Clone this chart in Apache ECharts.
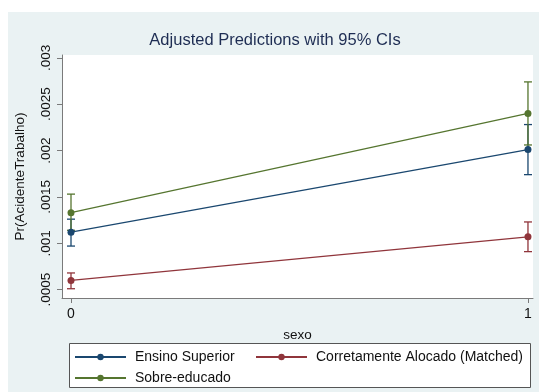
<!DOCTYPE html>
<html>
<head>
<meta charset="utf-8">
<script src="https://cdn.jsdelivr.net/npm/echarts@6/dist/echarts.min.js"></script>
<style>
  html, body { margin: 0; padding: 0; background: #ffffff; }
  #chart { width: 539px; height: 392px; }
</style>
</head>
<body>
<div id="chart"></div>
<script>
// sexo (0/1) and the adjusted predictions with 95% confidence limits
const sexoValues = [0, 1];

const ensinoMean = [0.00112, 0.00201];
const ensinoLow  = [0.00097, 0.00174];
const ensinoHigh = [0.00126, 0.00228];

const corretoMean = [0.00060, 0.00107];
const corretoLow  = [0.00051, 0.00091];
const corretoHigh = [0.00068, 0.00123];

const sobreMean = [0.00133, 0.00240];
const sobreLow  = [0.00114, 0.00206];
const sobreHigh = [0.00153, 0.00274];

const yTicks = [0.0005, 0.001, 0.0015, 0.002, 0.0025, 0.003];
const xTicks = [0, 1];

const FONT = '"Liberation Sans", Arial, sans-serif';
const NAVY = '#1a476f';
const MAROON = '#90353b';
const GREEN = '#55752f';

function pairs(xs, ys) { return xs.map((x, i) => [x, ys[i]]); }
function ciRows(xs, lo, hi) { return xs.map((x, i) => [x, lo[i], hi[i]]); }

function ciSeries(name, color, xs, lo, hi) {
  return {
    type: 'custom',
    name: name,
    silent: true,
    z: 2,
    data: ciRows(xs, lo, hi),
    encode: { x: 0, y: [1, 2] },
    renderItem: function (params, api) {
      const low = api.coord([api.value(0), api.value(1)]);
      const high = api.coord([api.value(0), api.value(2)]);
      const cap = 4;
      const style = { stroke: color, lineWidth: 1.3 };
      return {
        type: 'group',
        children: [
          { type: 'line', shape: { x1: low[0], y1: low[1], x2: high[0], y2: high[1] }, style: style },
          { type: 'line', shape: { x1: low[0] - cap, y1: low[1], x2: low[0] + cap, y2: low[1] }, style: style },
          { type: 'line', shape: { x1: high[0] - cap, y1: high[1], x2: high[0] + cap, y2: high[1] }, style: style }
        ]
      };
    }
  };
}

function lineSeries(name, color, xs, ys) {
  return {
    type: 'line',
    name: name,
    z: 3,
    data: pairs(xs, ys),
    symbol: 'circle',
    symbolSize: 7,
    lineStyle: { color: color, width: 1.3 },
    itemStyle: { color: color },
    emphasis: { disabled: true },
    animation: false
  };
}

const chart = echarts.init(document.getElementById('chart'), null, { renderer: 'canvas' });

chart.setOption({
  animation: false,
  backgroundColor: '#ffffff',
  graphic: [
    {
      type: 'rect', z: -10, silent: true,
      shape: { x: 8, y: 12, width: 531, height: 380 },
      style: { fill: '#eaf2f3' }
    },
    {
      type: 'rect', z: 10, silent: true,
      shape: { x: 69.5, y: 343.5, width: 461, height: 44 },
      style: { fill: '#ffffff', stroke: '#555555', lineWidth: 1 }
    }
  ],
  title: {
    text: 'Adjusted Predictions with 95% CIs',
    left: 270, top: 27, textAlign: 'center',
    textStyle: { fontFamily: FONT, fontSize: 16.5, fontWeight: 'normal', color: '#1e2d53' }
  },
  legend: [
    {
      orient: 'vertical', left: 74, top: 350, padding: 0, z: 11,
      itemWidth: 51, itemHeight: 8, itemGap: 7,
      data: ['Ensino Superior', 'Sobre-educado'],
      textStyle: { fontFamily: FONT, fontSize: 14, color: '#111111', padding: [0, 0, 0, 4] },
      selectedMode: false
    },
    {
      orient: 'vertical', left: 255, top: 350, padding: 0, z: 11,
      itemWidth: 51, itemHeight: 8, itemGap: 7,
      data: ['Corretamente Alocado (Matched)'],
      textStyle: { fontFamily: FONT, fontSize: 14, color: '#111111', padding: [0, 0, 0, 4] },
      selectedMode: false
    }
  ],
  grid: {
    left: 62, top: 55, width: 471, height: 243,
    show: true, backgroundColor: '#ffffff', borderWidth: 0
  },
  xAxis: {
    type: 'value',
    min: -0.0197, max: 1.011,
    name: 'sexo', nameLocation: 'middle', nameGap: 30,
    nameTextStyle: { fontFamily: FONT, fontSize: 13.5, color: '#111111' },
    axisLine: { show: true, onZero: false, lineStyle: { color: '#7a7a7a', width: 1 } },
    axisTick: { show: true, length: 5, customValues: xTicks, lineStyle: { color: '#7a7a7a' } },
    axisLabel: { customValues: xTicks, margin: 9, fontFamily: FONT, fontSize: 14, color: '#111111' },
    splitLine: { show: false }
  },
  yAxis: {
    type: 'value',
    min: 0.00041, max: 0.00303,
    name: 'Pr(AcidenteTrabalho)', nameLocation: 'middle', nameGap: 35,
    nameTextStyle: { fontFamily: FONT, fontSize: 13.5, color: '#111111' },
    axisLine: { show: true, onZero: false, lineStyle: { color: '#7a7a7a', width: 1 } },
    axisTick: { show: true, length: 5, customValues: yTicks, lineStyle: { color: '#7a7a7a' } },
    axisLabel: {
      customValues: yTicks, rotate: 90, margin: 9,
      fontFamily: FONT, fontSize: 13.5, color: '#111111',
      formatter: v => String(v).replace(/^0/, '')
    },
    splitLine: { show: false }
  },
  series: [
    {
      type: 'line', name: 'grid', data: [], silent: true, z: 1,
      markLine: {
        silent: true, symbol: 'none', label: { show: false },
        lineStyle: { color: '#e2ebed', width: 1, type: 'solid' },
        data: yTicks.map(v => ({ yAxis: v }))
      }
    },
    ciSeries('Ensino Superior CI', NAVY, sexoValues, ensinoLow, ensinoHigh),
    ciSeries('Corretamente Alocado CI', MAROON, sexoValues, corretoLow, corretoHigh),
    ciSeries('Sobre-educado CI', GREEN, sexoValues, sobreLow, sobreHigh),
    lineSeries('Ensino Superior', NAVY, sexoValues, ensinoMean),
    lineSeries('Corretamente Alocado (Matched)', MAROON, sexoValues, corretoMean),
    lineSeries('Sobre-educado', GREEN, sexoValues, sobreMean)
  ]
});
</script>
</body>
</html>
